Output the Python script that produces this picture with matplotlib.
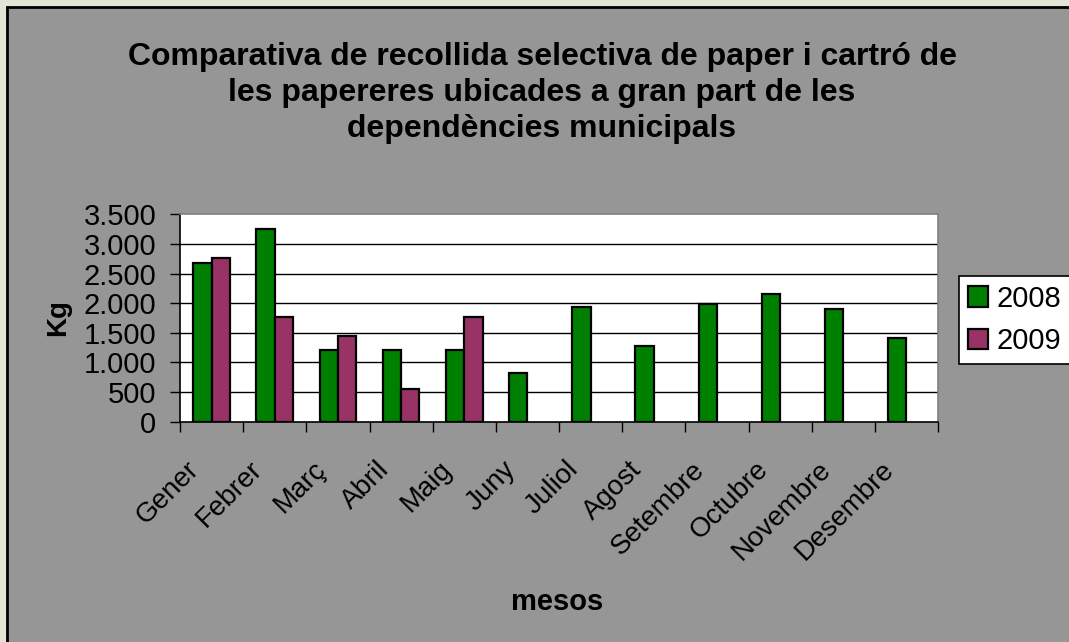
import matplotlib
matplotlib.use("Agg")
import matplotlib.pyplot as plt
from matplotlib.patches import Rectangle
from matplotlib.transforms import ScaledTranslation
import numpy as np

months = ["Gener", "Febrer", "Març", "Abril", "Maig", "Juny", "Juliol",
          "Agost", "Setembre", "Octubre", "Novembre", "Desembre"]
kg_2008 = [2670, 3260, 1210, 1205, 1210, 820, 1930, 1285, 1990, 2150, 1895, 1420]
kg_2009 = [2760, 1770, 1450, 560, 1770, None, None, None, None, None, None, None]
yticks = [0, 500, 1000, 1500, 2000, 2500, 3000, 3500]
ytick_labels = ["0", "500", "1.000", "1.500", "2.000", "2.500", "3.000", "3.500"]
title = ("Comparativa de recollida selectiva de paper i cartró de\n"
         "les papereres ubicades a gran part de les\n"
         "dependències municipals")

plt.rcParams['font.family'] = ['Liberation Sans', 'DejaVu Sans']

W, H = 1069, 642
fig = plt.figure(figsize=(W / 100, H / 100), dpi=100)
fig.patch.set_facecolor('#e2e4d5')

# chart area
fig.add_artist(Rectangle((7 / W, -0.05), 1.2, 1 - 7 / H + 0.05,
                         transform=fig.transFigure, facecolor='#969696',
                         edgecolor='black', lw=2, zorder=-5))

ax = fig.add_axes([180 / W, 1 - 421.7 / H, (938 - 180) / W, (421.7 - 214.3) / H])
ax.set_zorder(2)
ax.set_facecolor('white')

x = np.arange(len(months))
bw = 0.29
g = '#008000'
m = '#993366'
ax.bar(x - bw / 2, kg_2008, width=bw, color=g, edgecolor='black', lw=1.6,
       label='2008', zorder=3)
idx09 = [i for i, v in enumerate(kg_2009) if v is not None]
ax.bar(x[idx09] + bw / 2, [kg_2009[i] for i in idx09], width=bw, color=m,
       edgecolor='black', lw=1.6, label='2009', zorder=3)

ax.set_xlim(-0.5, len(months) - 0.5)
ax.set_ylim(0, 3500)
ax.set_yticks(yticks)
ax.set_yticklabels(ytick_labels, fontsize=21)
for yv in yticks[1:-1]:
    ax.axhline(yv, color='black', lw=1, zorder=1)

ax.set_xticks(np.arange(-0.5, len(months)), minor=False)
ax.set_xticklabels([])
ax.set_xticks(x, minor=True)
ax.set_xticklabels(months, minor=True, rotation=45, ha='right', va='center',
                   rotation_mode='anchor', fontsize=20)
ax.tick_params(axis='x', which='minor', length=0, pad=0)
ax.tick_params(axis='x', which='major', length=7, width=1, direction='out', color='black')
ax.tick_params(axis='y', length=7, width=1, direction='out', pad=10)
off = ScaledTranslation(-0.16, -0.44, fig.dpi_scale_trans)
for lbl in ax.get_xticklabels(minor=True):
    lbl.set_transform(lbl.get_transform() + off)

ax.spines['left'].set_color('black')
ax.spines['bottom'].set_color('black')
ax.spines['top'].set_color('#808080')
ax.spines['right'].set_color('#808080')
for s in ax.spines.values():
    s.set_linewidth(1.2)

ax.set_ylabel('Kg', fontsize=20, fontweight='bold', labelpad=9)
fig.text(557 / W, 1 - 602 / H, 'mesos', fontsize=21, fontweight='bold',
         ha='center', va='center')
fig.text(542 / W, 1 - 93 / H, title, fontsize=23, fontweight='bold',
         ha='center', va='center', linespacing=1.24)

leg = fig.legend(loc='upper left', bbox_to_anchor=(959 / W, 1 - 276 / H),
                 fontsize=21, frameon=True, fancybox=False, edgecolor='black',
                 framealpha=1, borderaxespad=0, handlelength=0.7,
                 handleheight=0.7, handletextpad=0.3, borderpad=0.3,
                 labelspacing=0.5)
leg.get_frame().set_linewidth(1.2)

fig.savefig('out.png', dpi=100, facecolor=fig.get_facecolor())
